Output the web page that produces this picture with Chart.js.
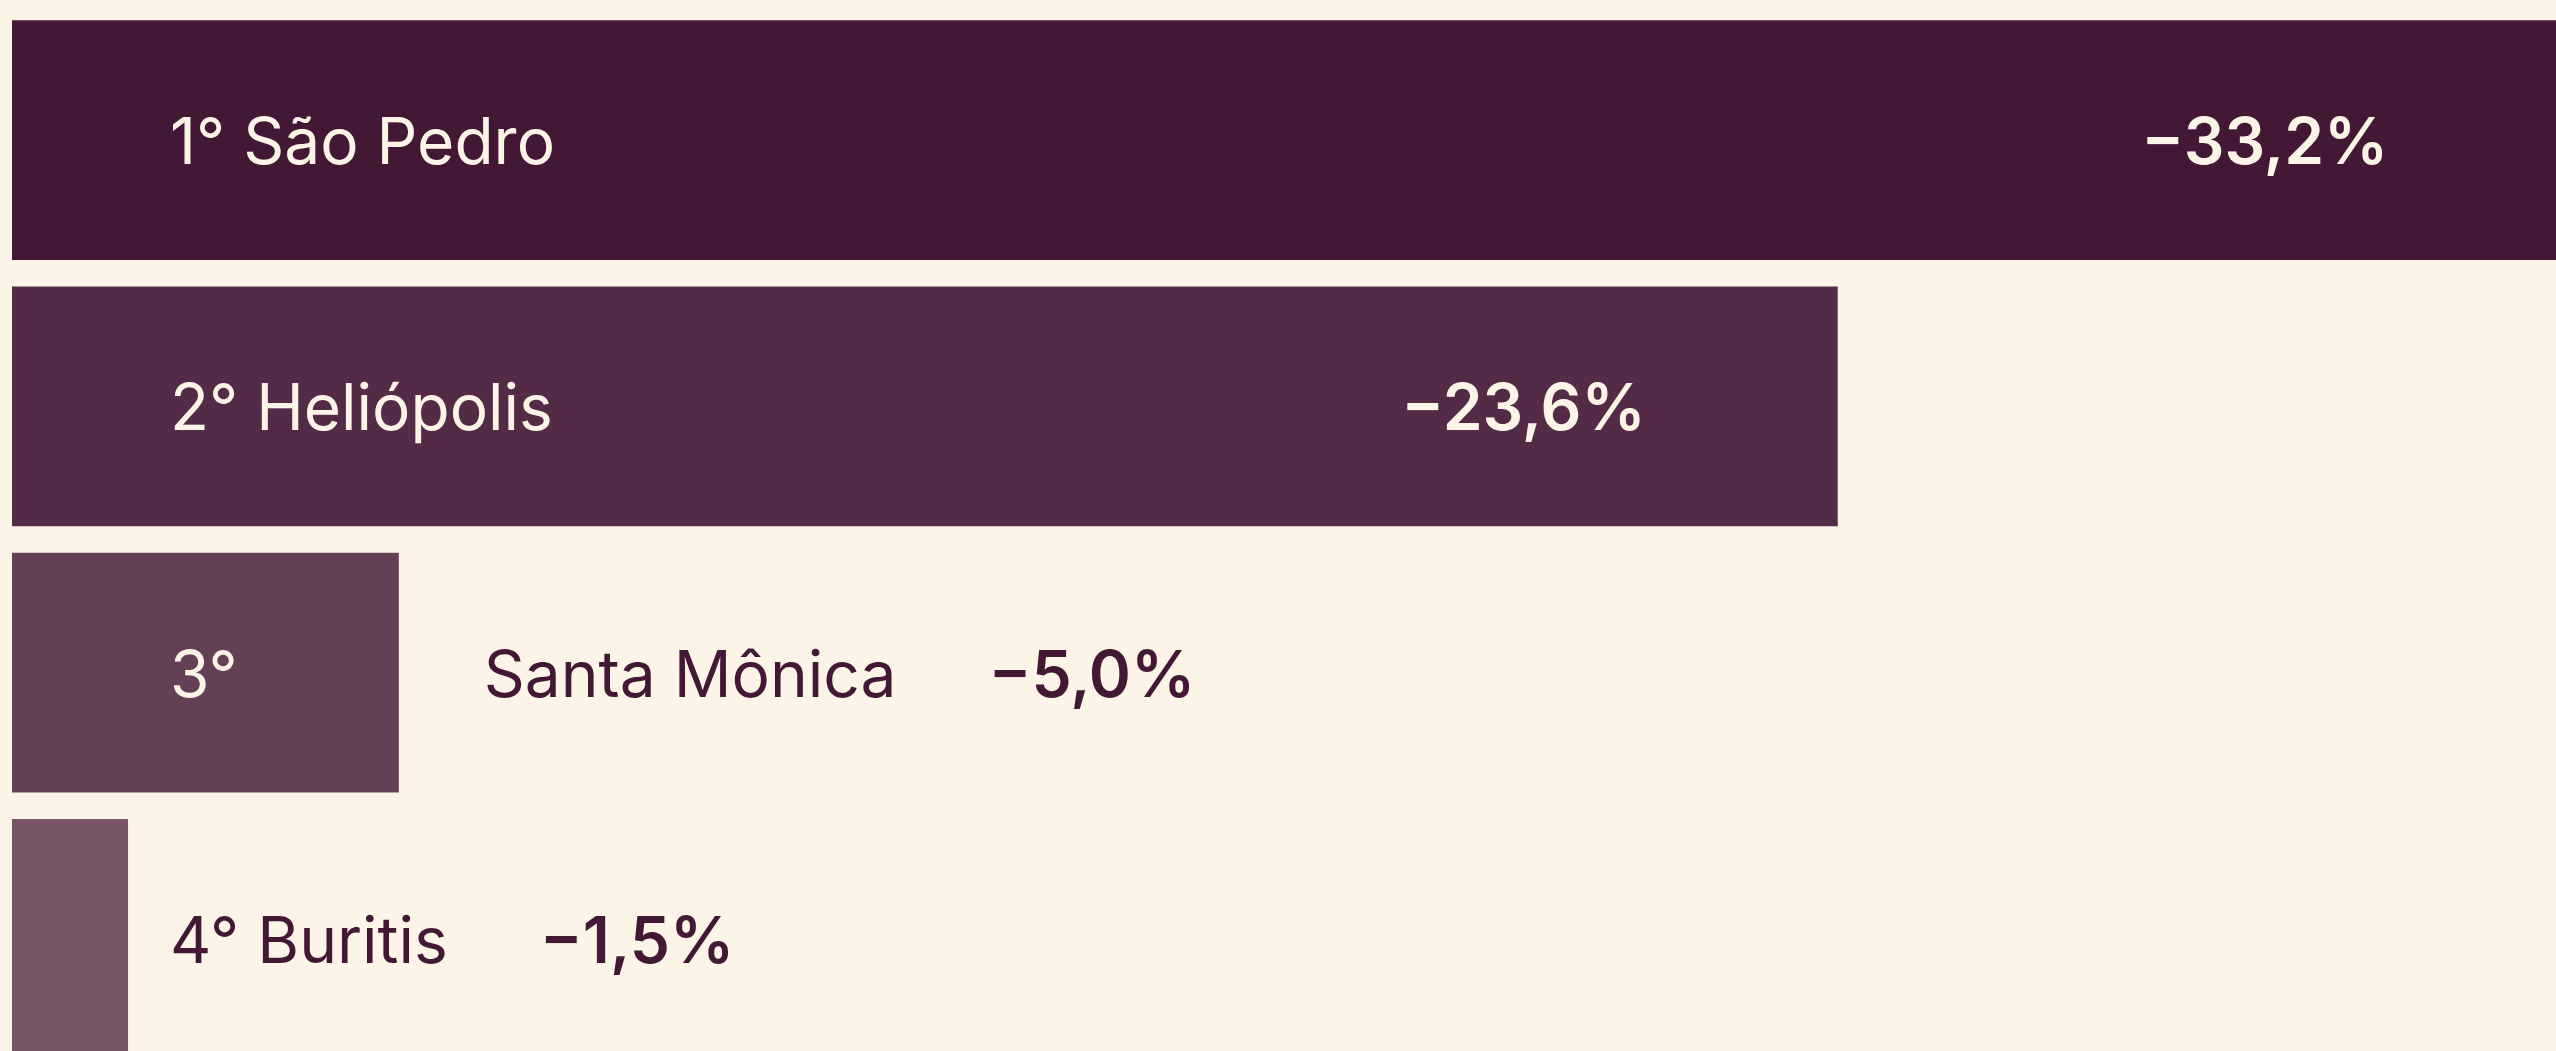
<!DOCTYPE html>
<html>
<head>
<meta charset="utf-8">
<script src="https://cdn.jsdelivr.net/npm/chart.js@4.4.1/dist/chart.umd.min.js"></script>
<style>
  html, body { margin: 0; padding: 0; overflow: hidden; background: #fbf4e7; }
  body { width: 2556px; height: 1051px; position: relative; }
  #wrap { position: absolute; left: 0; top: 0; width: 2650px; height: 1072px; }
</style>
</head>
<body>
<div id="wrap"><canvas id="chart"></canvas></div>
<script>
const ranks = ['1°', '2°', '3°', '4°']
const places = ['São Pedro', 'Heliópolis', 'Santa Mônica', 'Buritis']
const drops = [33.2, 23.6, 5.0, 1.5]
const barColors = ['#431834', '#532b47', '#644057', '#765667']

const cream = '#fbf4e7'
const plum = '#431834'
const fontFamily = 'Inter, "Noto Sans", sans-serif'

function formatDrop(v) {
  return '\u2212' + v.toFixed(1).replace('.', ',') + '%'
}

// draws rank, place and value next to / inside each bar
const barLabels = {
  id: 'barLabels',
  afterDatasetsDraw(chart) {
    const ctx = chart.ctx
    const area = chart.chartArea
    const bars = chart.getDatasetMeta(0).data
    const nameFont = '400 64px ' + fontFamily
    const valueFont = '600 64px ' + fontFamily
    const textX = area.left + 158

    ctx.save()
    ctx.textBaseline = 'alphabetic'
    bars.forEach((bar, i) => {
      const end = bar.x
      const y = bar.y + 24
      const full = ranks[i] + ' ' + places[i]
      const value = formatDrop(drops[i])

      ctx.font = nameFont
      const fullW = ctx.measureText(full).width
      let nameEnd

      if (end < textX) {
        ctx.fillStyle = plum
        ctx.textAlign = 'left'
        ctx.fillText(full, textX, y)
        nameEnd = textX + fullW
      } else if (end > textX + fullW + 600) {
        ctx.fillStyle = cream
        ctx.textAlign = 'left'
        ctx.fillText(full, textX, y)
        nameEnd = null
      } else {
        ctx.fillStyle = cream
        ctx.textAlign = 'left'
        ctx.fillText(ranks[i], textX, y)
        ctx.fillStyle = plum
        ctx.fillText(places[i], end + 85, y)
        nameEnd = end + 85 + ctx.measureText(places[i]).width
      }

      ctx.font = valueFont
      if (nameEnd === null) {
        ctx.fillStyle = cream
        ctx.textAlign = 'right'
        ctx.fillText(value, end - 192, y)
      } else {
        ctx.fillStyle = plum
        ctx.textAlign = 'left'
        ctx.fillText(value, nameEnd + 92, y)
      }
    })
    ctx.restore()
  }
}

new Chart(document.getElementById('chart'), {
  type: 'bar',
  data: {
    labels: places,
    datasets: [{
      data: drops,
      backgroundColor: barColors,
      borderWidth: 0,
      barPercentage: 0.9,
      categoryPercentage: 1
    }]
  },
  options: {
    indexAxis: 'y',
    responsive: true,
    maintainAspectRatio: false,
    animation: false,
    layout: { padding: { left: 12, top: 7, right: 0, bottom: 0 } },
    scales: {
      x: { display: false, min: 0, max: 34.1 },
      y: { display: false }
    },
    plugins: {
      legend: { display: false },
      tooltip: { enabled: false }
    }
  },
  plugins: [barLabels]
})
</script>
</body>
</html>
